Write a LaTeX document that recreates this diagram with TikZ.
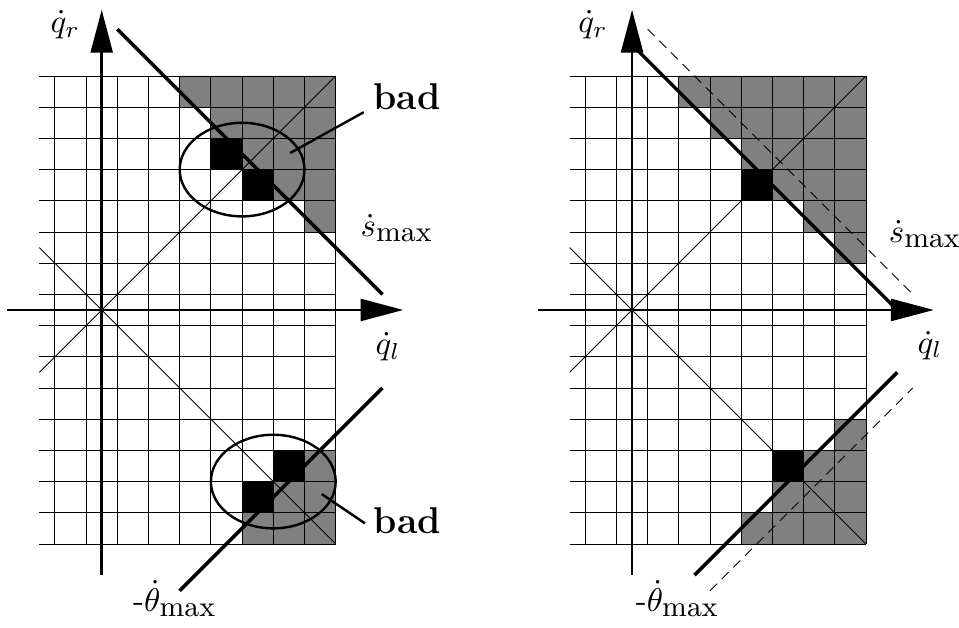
\documentclass[tikz,border=0pt]{standalone}
\usetikzlibrary{arrows.meta}
\newcommand{\mxsub}{\mbox{\fontsize{8.8}{11}\selectfont max}}
\begin{document}
\begin{tikzpicture}[x=1cm,y=1cm,
  gridline/.style={line width=0.8pt},
  thinline/.style={line width=0.8pt},
  thickline/.style={line width=3.2pt},
  dashline/.style={line width=0.8pt, dash pattern=on 9pt off 6pt},
  axisline/.style={line width=2.4pt, -{Triangle[length=39pt,width=20pt]}},
  badfill/.style={fill=black!50},
  blackfill/.style={fill=black},
  region/.style={line width=2.2pt},
  leader/.style={line width=2.2pt},
  lbl/.style={inner sep=0pt, font=\fontsize{10}{12}\selectfont, scale=3.0},
  badlbl/.style={inner sep=0pt, font=\fontsize{34}{40}\selectfont\bfseries}]
\useasboundingbox (-3.26,-10.19) rectangle (27.48,9.936);

% ---------------- left panel ----------------
\begin{scope}
  \fill[badfill] (2.5,7.5) -- (7.5,7.5) -- (7.5,2.5) -- (6.5,2.5) -- (6.5,3.5)
     -- (5.5,3.5) -- (5.5,4.5) -- (4.5,4.5) -- (4.5,5.5) -- (3.5,5.5)
     -- (3.5,6.5) -- (2.5,6.5) -- cycle;
  \fill[badfill] (4.5,-7.5) -- (7.5,-7.5) -- (7.5,-4.5) -- (6.5,-4.5) -- (6.5,-5.5)
     -- (5.5,-5.5) -- (5.5,-6.5) -- (4.5,-6.5) -- cycle;
  \foreach \y in {-7.5,-6.5,...,7.5} \draw[gridline] (-2,\y) -- (7.5,\y);
  \foreach \x in {-1.5,-0.5,...,7.5} \draw[gridline] (\x,-7.5) -- (\x,7.5);
  \draw[thinline] (-2,2) -- (7.5,-7.5);
  \draw[thinline] (-2,-2) -- (7.5,7.5);
  \fill[blackfill] (3.5,4.5) rectangle (4.5,5.5);
  \fill[blackfill] (4.5,3.5) rectangle (5.5,4.5);
  \fill[blackfill] (5.5,-5.5) rectangle (6.5,-4.5);
  \fill[blackfill] (4.5,-6.5) rectangle (5.5,-5.5);
  \draw[thickline] (0.5,9) -- (9,0.5);
  \draw[thickline] (2.5,-9) -- (9,-2.5);
  \draw[region] (4.5,4.5) ellipse [x radius=2, y radius=1.5];
  \draw[region] (5.5,-5.5) ellipse [x radius=2, y radius=1.5];
  \draw[axisline] (0,-8.5) -- (0,9.62);
  \draw[axisline] (-3.03,0) -- (9.67,0);
  \node[lbl, anchor=base] (qrA) at (-1.17,8.88) {$\dot{q}_r$};
  \node[lbl, anchor=base] (qlA) at (9.18,-1.44) {$\dot{q}_l$};
  \node[lbl, anchor=base west] (smaxA) at (8.28,2.35) {$\dot{s}_{\mxsub}$};
  \node[lbl, anchor=base west] (thA) at (0.99,-9.67) {-$\dot{\theta}_{\mxsub}$};
  \node[badlbl, anchor=base west] (badA) at (8.70,6.41) {bad};
  \node[badlbl, anchor=base west] (badB) at (8.72,-7.15) {bad};
  \coordinate (badAs) at (6.04,5.03);
  \coordinate (badAe) at (8.40,6.34);
  \coordinate (badBs) at (7.05,-5.90);
  \coordinate (badBe) at (8.44,-6.84);
  \draw[leader] (badAs) -- (badAe);
  \draw[leader] (badBs) -- (badBe);
\end{scope}

% ---------------- right panel ----------------
\begin{scope}[xshift=17cm]
  \fill[badfill] (1.5,7.5) -- (7.5,7.5) -- (7.5,1.5) -- (6.5,1.5) -- (6.5,2.5)
     -- (5.5,2.5) -- (5.5,3.5) -- (4.5,3.5) -- (4.5,4.5) -- (3.5,4.5)
     -- (3.5,5.5) -- (2.5,5.5) -- (2.5,6.5) -- (1.5,6.5) -- cycle;
  \fill[badfill] (3.5,-7.5) -- (7.5,-7.5) -- (7.5,-3.5) -- (6.5,-3.5) -- (6.5,-4.5)
     -- (5.5,-4.5) -- (5.5,-5.5) -- (4.5,-5.5) -- (4.5,-6.5) -- (3.5,-6.5) -- cycle;
  \foreach \y in {-7.5,-6.5,...,7.5} \draw[gridline] (-2,\y) -- (7.5,\y);
  \foreach \x in {-1.5,-0.5,...,7.5} \draw[gridline] (\x,-7.5) -- (\x,7.5);
  \draw[thinline] (-2,2) -- (7.5,-7.5);
  \draw[thinline] (-2,-2) -- (7.5,7.5);
  \fill[blackfill] (3.5,3.5) rectangle (4.5,4.5);
  \fill[blackfill] (4.5,-5.5) rectangle (5.5,-4.5);
  \draw[dashline] (0.5,9) -- (9,0.5);
  \draw[dashline] (2.5,-9) -- (9,-2.5);
  \draw[thickline] (0,8.5) -- (8.5,0);
  \draw[thickline] (2,-8.5) -- (8.5,-2);
  \draw[axisline] (0,-8.5) -- (0,9.62);
  \draw[axisline] (-3.03,0) -- (9.67,0);
  \node[lbl, anchor=base] (qrB) at (-1.25,8.88) {$\dot{q}_r$};
  \node[lbl, anchor=base] (qlB) at (9.55,-1.38) {$\dot{q}_l$};
  \node[lbl, anchor=base west] (smaxB) at (8.21,2.15) {$\dot{s}_{\mxsub}$};
  \node[lbl, anchor=base west] (thB) at (0.10,-9.67) {-$\dot{\theta}_{\mxsub}$};
\end{scope}
\end{tikzpicture}
\end{document}
